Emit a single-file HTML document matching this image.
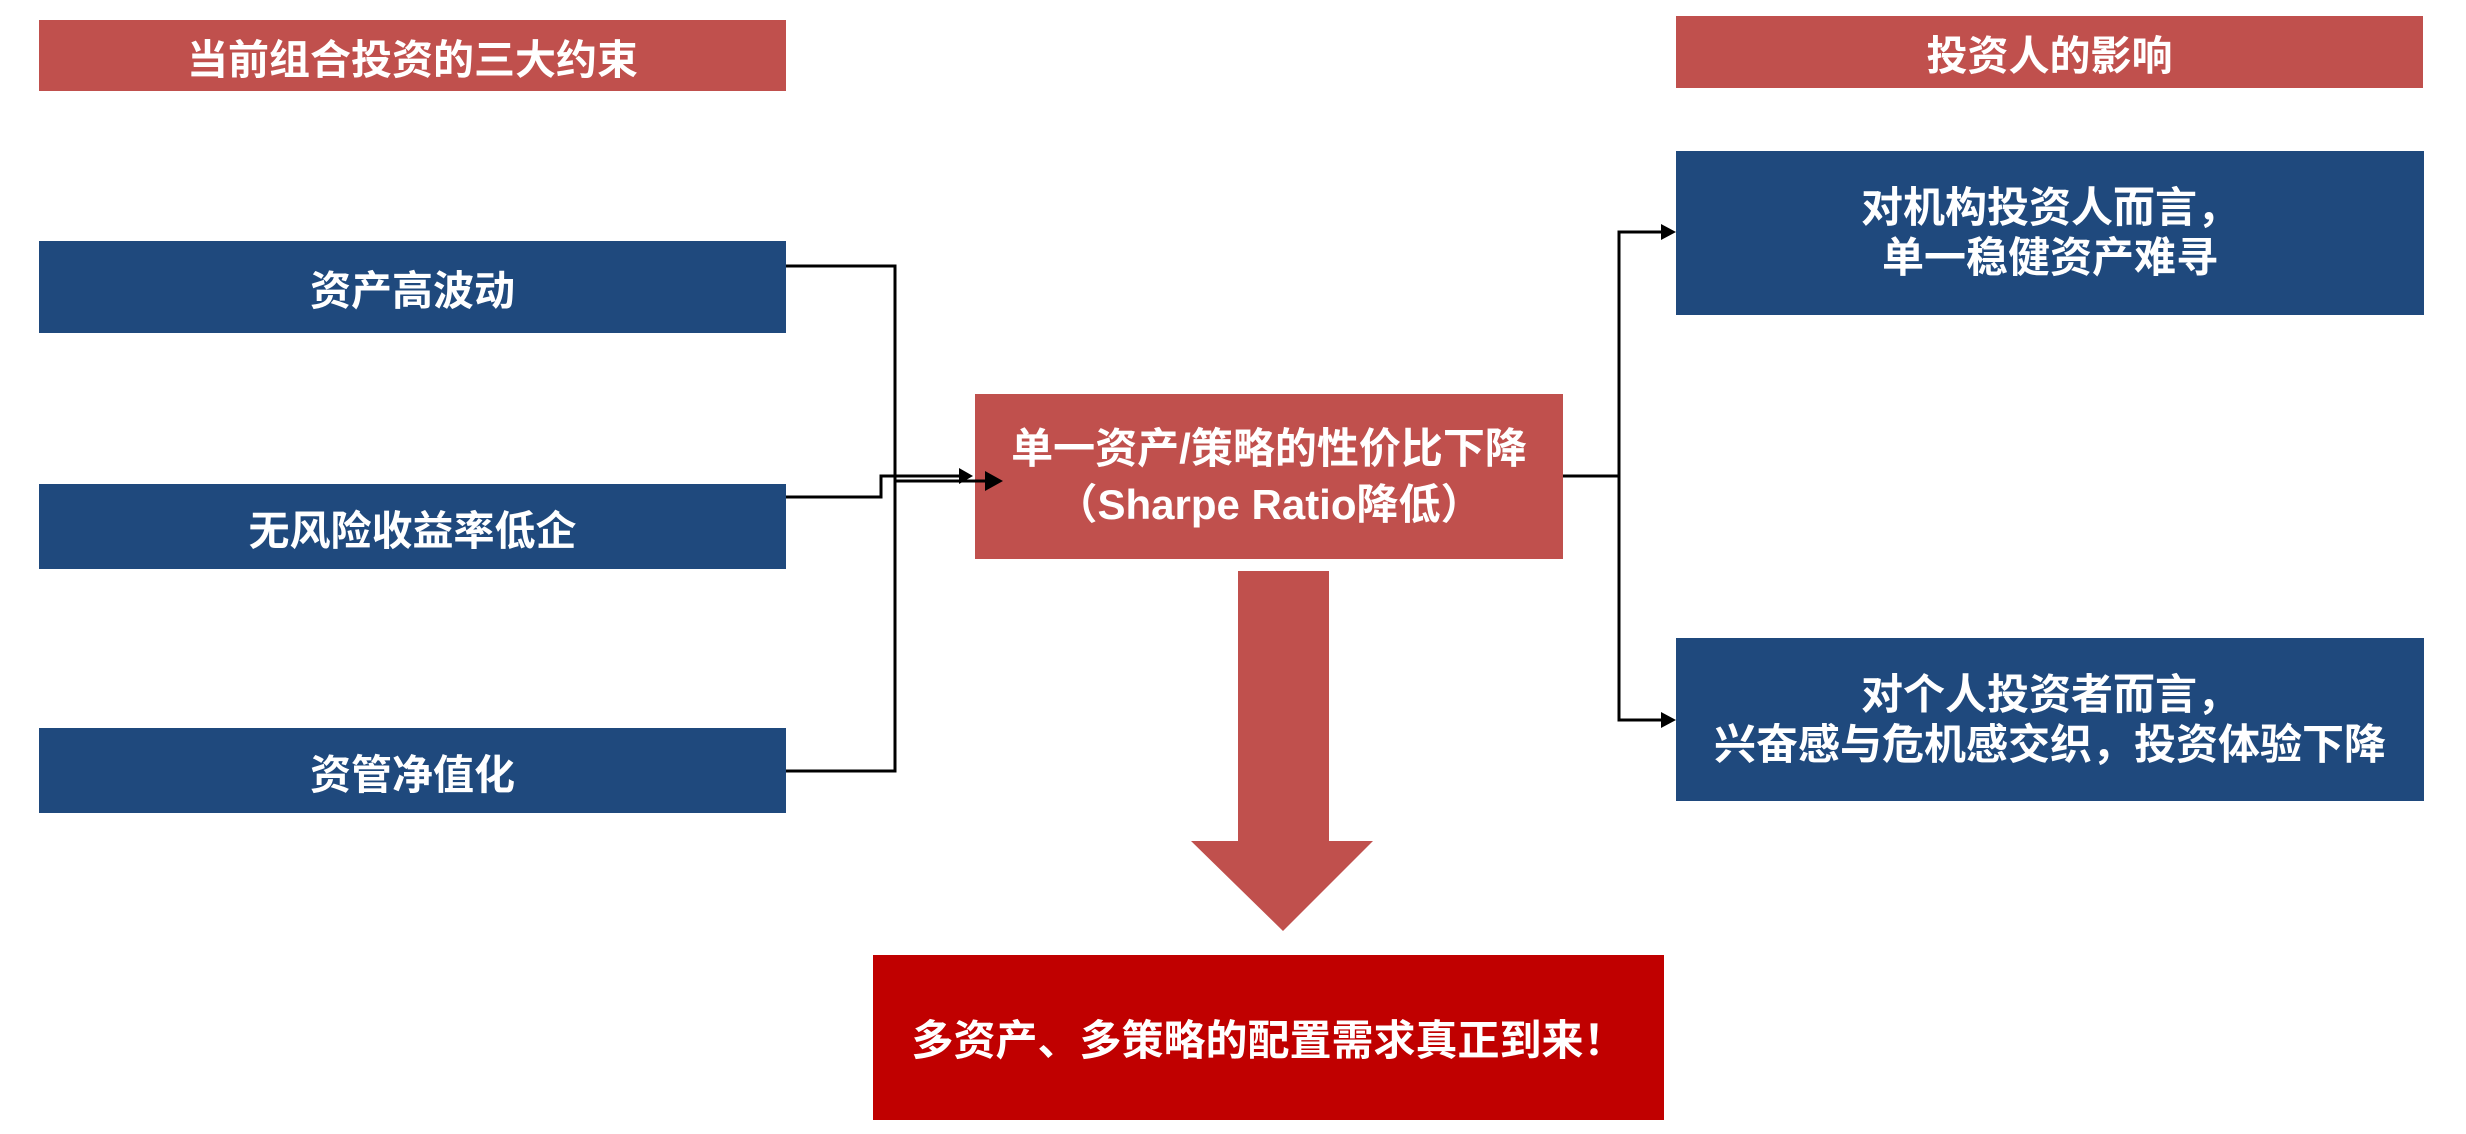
<!DOCTYPE html>
<html><head><meta charset="utf-8"><style>
body{margin:0;width:2466px;height:1134px;background:#fff;position:relative;overflow:hidden;font-family:"Liberation Sans","Noto Sans CJK SC",sans-serif;font-weight:bold;color:#fff}
.b{position:absolute;display:flex;align-items:center;justify-content:center;text-align:center}
.r{background:#c0504d}.u{background:#1f497d}
</style></head><body>
<div class="b r" style="left:39px;top:20px;width:747px;height:71px;font-size:41px">当前组合投资的三大约束</div>
<div class="b r" style="left:1676px;top:16px;width:747px;height:72px;font-size:41px">投资人的影响</div>
<div class="b u" style="left:39px;top:241px;width:747px;height:92px;font-size:41px">资产高波动</div>
<div class="b u" style="left:39px;top:484px;width:747px;height:85px;font-size:41px">无风险收益率低企</div>
<div class="b u" style="left:39px;top:728px;width:747px;height:85px;font-size:41px">资管净值化</div>
<div class="b u" style="left:1676px;top:151px;width:748px;height:164px;font-size:42px;line-height:50px">对机构投资人而言，<br>单一稳健资产难寻</div>
<div class="b u" style="left:1676px;top:638px;width:748px;height:163px;font-size:42px;line-height:50px">对个人投资者而言，<br>兴奋感与危机感交织，投资体验下降</div>
<div class="b r" style="left:975px;top:394px;width:588px;height:165px;font-size:42px;line-height:56px">单一资产/策略的性价比下降<br>（Sharpe Ratio降低）</div>
<div class="b" style="left:873px;top:955px;width:791px;height:165px;font-size:42px;background:#c00000">多资产、多策略的配置需求真正到来！</div>
<svg width="2466" height="1134" style="position:absolute;left:0;top:0">
<polygon points="1238,571 1329,571 1329,841 1373,841 1283,931 1191,841 1238,841" fill="#c0504d"/>
<g stroke="#000" stroke-width="3" fill="none">
<polyline points="786,266 895,266 895,771 786,771"/>
<polyline points="786,497 881,497 881,476 962,476"/>
<line x1="895" y1="481" x2="990" y2="481"/>
<polyline points="1563,476 1619,476"/>
<polyline points="1663,232 1619,232 1619,720 1663,720"/>
</g>
<g fill="#000">
<polygon points="973,476 959,468 959,484"/>
<polygon points="1003,481 985,471 985,491"/>
<polygon points="1676,232 1661,224 1661,240"/>
<polygon points="1676,720 1661,712 1661,728"/>
</g>
</svg>
</body></html>
